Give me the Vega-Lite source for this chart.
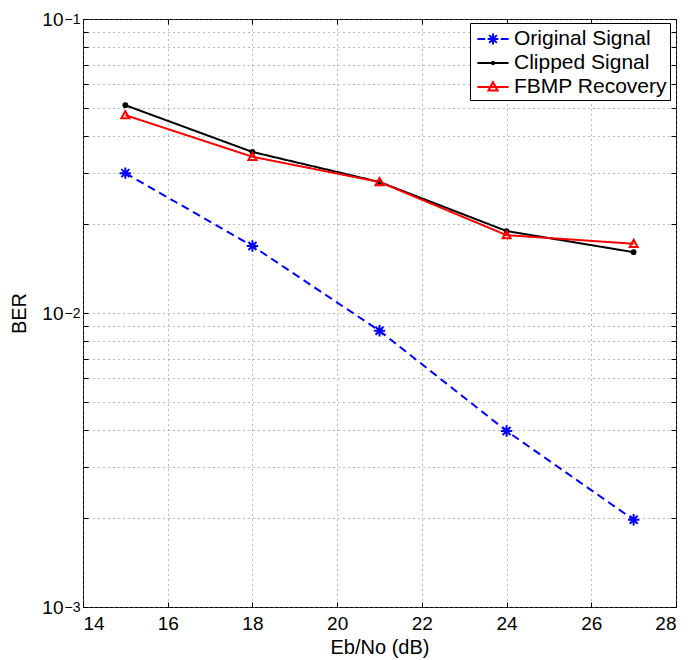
{
  "$schema": "https://vega.github.io/schema/vega-lite/v6.json",
  "width": 593,
  "height": 588,
  "autosize": "none",
  "padding": {"left": 83, "top": 19, "right": 12, "bottom": 53},
  "config": {
    "font": "Liberation Sans",
    "view": {"stroke": "black", "strokeWidth": 1},
    "axis": {
      "domain": false,
      "grid": false,
      "gridColor": "#777777",
      "gridDash": [1, 4],
      "gridWidth": 1,
      "tickColor": "black",
      "tickSize": -5,
      "labelColor": "black",
      "labelFont": "Liberation Sans",
      "labelFontSize": 19,
      "titleFont": "Liberation Sans",
      "titleFontSize": 20,
      "titleFontWeight": "normal",
      "titleColor": "black"
    }
  },
  "data": {
    "values": [
      {"series": "Original Signal", "ebno": 15, "ber": 0.0299},
      {"series": "Original Signal", "ebno": 18, "ber": 0.0169},
      {"series": "Original Signal", "ebno": 21, "ber": 0.0087},
      {"series": "Original Signal", "ebno": 24, "ber": 0.00397},
      {"series": "Original Signal", "ebno": 27, "ber": 0.00198},
      {"series": "Clipped Signal", "ebno": 15, "ber": 0.0509},
      {"series": "Clipped Signal", "ebno": 18, "ber": 0.0353},
      {"series": "Clipped Signal", "ebno": 21, "ber": 0.0279},
      {"series": "Clipped Signal", "ebno": 24, "ber": 0.0190},
      {"series": "Clipped Signal", "ebno": 27, "ber": 0.0161},
      {"series": "FBMP Recovery", "ebno": 15, "ber": 0.0471},
      {"series": "FBMP Recovery", "ebno": 18, "ber": 0.0340},
      {"series": "FBMP Recovery", "ebno": 21, "ber": 0.0279},
      {"series": "FBMP Recovery", "ebno": 24, "ber": 0.0184},
      {"series": "FBMP Recovery", "ebno": 27, "ber": 0.0172}
    ]
  },
  "layer": [
    {
      "mark": {"type": "line", "strokeWidth": 2},
      "encoding": {
        "x": {
          "field": "ebno",
          "type": "quantitative",
          "scale": {"domain": [14, 28], "nice": false, "zero": false},
          "axis": {
            "values": [14, 16, 18, 20, 22, 24, 26, 28],
            "grid": true,
            "title": "Eb/No (dB)",
            "labelPadding": 12,
            "titlePadding": 4
          }
        },
        "y": {
          "field": "ber",
          "type": "quantitative",
          "scale": {"type": "log", "domain": [0.001, 0.1], "nice": false},
          "axis": {
            "orient": "left",
            "values": [0.001, 0.002, 0.003, 0.004, 0.005, 0.006, 0.007, 0.008, 0.009, 0.01, 0.02, 0.03, 0.04, 0.05, 0.06, 0.07, 0.08, 0.09, 0.1],
            "labelExpr": "datum.value == 0.1 || datum.value == 0.01 || datum.value == 0.001 ? '10' : ''",
            "grid": true,
            "title": "BER",
            "labelPadding": 25,
            "titlePadding": 12
          }
        },
        "color": {
          "field": "series",
          "type": "nominal",
          "scale": {"domain": ["Original Signal", "Clipped Signal", "FBMP Recovery"], "range": ["#0000ff", "#000000", "#ff0000"]},
          "legend": null
        },
        "strokeDash": {
          "field": "series",
          "type": "nominal",
          "scale": {"domain": ["Original Signal", "Clipped Signal", "FBMP Recovery"], "range": [[8, 5], [1, 0], [1, 0]]},
          "legend": null
        }
      }
    },
    {
      "mark": {"type": "point", "strokeWidth": 2, "opacity": 1},
      "encoding": {
        "x": {"field": "ebno", "type": "quantitative", "axis": null},
        "y": {"field": "ber", "type": "quantitative", "axis": null},
        "stroke": {
          "field": "series",
          "type": "nominal",
          "scale": {"domain": ["Original Signal", "Clipped Signal", "FBMP Recovery"], "range": ["#0000ff", "#000000", "#ff0000"]},
          "legend": null
        },
        "shape": {
          "field": "series",
          "type": "nominal",
          "scale": {"domain": ["Original Signal", "Clipped Signal", "FBMP Recovery"], "range": ["M-1,0L1,0M0,-1L0,1M-0.7,-0.7L0.7,0.7M-0.7,0.7L0.7,-0.7", "circle", "M0,-1L1,0.8L-1,0.8Z"]},
          "legend": null
        },
        "size": {
          "field": "series",
          "type": "nominal",
          "scale": {"type": "ordinal", "domain": ["Original Signal", "Clipped Signal", "FBMP Recovery"], "range": [130, 14, 64]},
          "legend": null
        },
        "fill": {
          "field": "series",
          "type": "nominal",
          "scale": {"domain": ["Original Signal", "Clipped Signal", "FBMP Recovery"], "range": ["transparent", "#000000", "transparent"]},
          "legend": null
        }
      }
    },
    {
      "mark": {"type": "point", "opacity": 0},
      "encoding": {
        "x": {
          "field": "ebno",
          "type": "quantitative",
          "axis": {"orient": "top", "values": [14, 16, 18, 20, 22, 24, 26, 28], "labels": false, "title": null}
        },
        "y": {
          "field": "ber",
          "type": "quantitative",
          "axis": {"orient": "right", "values": [0.001, 0.002, 0.003, 0.004, 0.005, 0.006, 0.007, 0.008, 0.009, 0.01, 0.02, 0.03, 0.04, 0.05, 0.06, 0.07, 0.08, 0.09, 0.1], "labels": false, "title": null}
        }
      }
    },
    {
      "mark": {"type": "point", "opacity": 0},
      "encoding": {
        "x": {"field": "ebno", "type": "quantitative", "axis": null},
        "y": {
          "field": "ber",
          "type": "quantitative",
          "axis": {
            "orient": "left",
            "values": [0.001, 0.01, 0.1],
            "labelExpr": "datum.value == 0.1 ? '−1' : datum.value == 0.01 ? '−2' : '−3'",
            "labelFontSize": 14,
            "labelPadding": 3,
            "labelDy": -9,
            "ticks": false,
            "title": null
          }
        }
      }
    },
    {
      "mark": {"type": "point", "opacity": 0, "filled": false, "size": 576, "strokeWidth": 2},
      "encoding": {
        "x": {"field": "ebno", "type": "quantitative", "axis": null},
        "y": {"field": "ber", "type": "quantitative", "axis": null},
        "stroke": {
          "field": "series",
          "type": "nominal",
          "scale": {"domain": ["Original Signal", "Clipped Signal", "FBMP Recovery"], "range": ["#0000ff", "#000000", "#ff0000"]},
          "legend": {
            "title": null,
            "orient": "none",
            "legendX": 387,
            "legendY": 4,
            "strokeColor": "black",
            "fillColor": "white",
            "padding": 3,
            "labelFont": "Liberation Sans",
            "labelFontSize": 21,
            "labelColor": "black",
            "symbolSize": 576,
            "symbolStrokeWidth": 2,
            "symbolOpacity": 1,
            "symbolOffset": 7,
            "rowPadding": 1,
            "labelOffset": 8
          }
        },
        "shape": {
          "field": "series",
          "type": "nominal",
          "scale": {"domain": ["Original Signal", "Clipped Signal", "FBMP Recovery"], "range": ["M-1.3,0L-0.65,0M0.65,0L1.3,0M-0.45,0L0.45,0M0,-0.45L0,0.45M-0.32,-0.32L0.32,0.32M-0.32,0.32L0.32,-0.32", "M-1.3,0L1.3,0M-0.1,0A0.1,0.1,0,1,0,0.1,0A0.1,0.1,0,1,0,-0.1,0", "M-1.3,0L1.3,0M0,-0.4L0.38,0.3L-0.38,0.3Z"]},
          "legend": {
            "title": null,
            "orient": "none",
            "legendX": 387,
            "legendY": 4,
            "strokeColor": "black",
            "fillColor": "white",
            "padding": 3,
            "labelFont": "Liberation Sans",
            "labelFontSize": 21,
            "labelColor": "black",
            "symbolSize": 576,
            "symbolStrokeWidth": 2,
            "symbolOpacity": 1,
            "symbolOffset": 7,
            "rowPadding": 1,
            "labelOffset": 8
          }
        }
      }
    }
  ],
  "resolve": {
    "axis": {"x": "independent", "y": "independent"},
    "scale": {"shape": "independent", "stroke": "independent"},
    "legend": {"shape": "independent", "stroke": "independent"}
  }
}
